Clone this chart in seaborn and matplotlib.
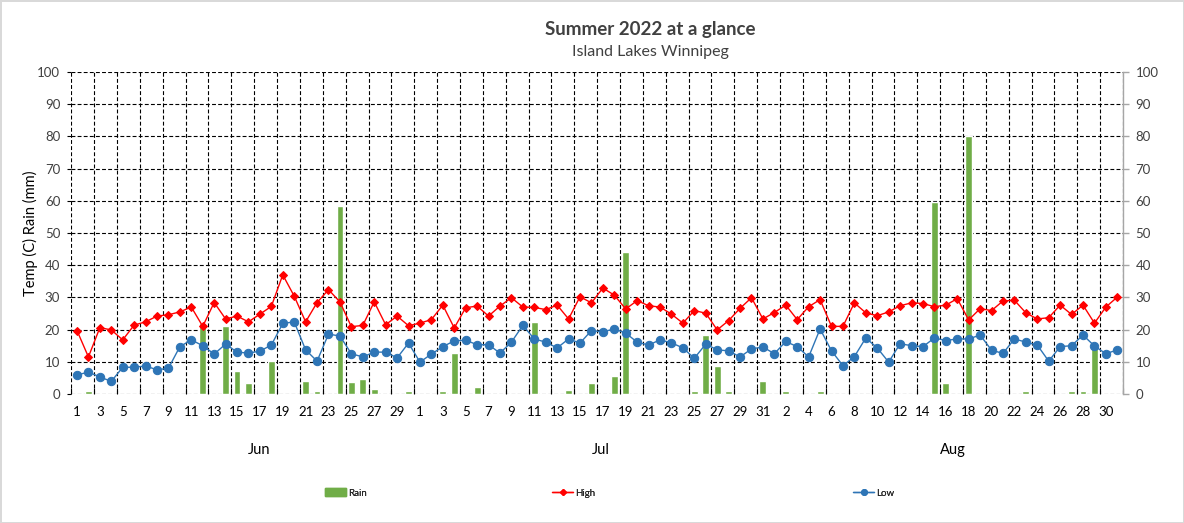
import numpy as np
import pandas as pd
import matplotlib
matplotlib.use("Agg")
import matplotlib.pyplot as plt
from matplotlib.lines import Line2D
from matplotlib.patches import Patch
import seaborn as sns


# data (Jun 1 - Aug 31, 2022)
months = ["Jun", "Jul", "Aug"]
month_days = [30, 31, 31]

high_jun = [19.7, 11.5, 20.6, 19.9, 16.8, 21.4, 22.4, 24.2, 24.6, 25.5,
            27.0, 21.0, 28.4, 23.3, 24.2, 22.4, 24.8, 27.2, 37.0, 30.4,
            22.4, 28.4, 32.4, 28.6, 20.9, 21.3, 28.6, 21.5, 24.2, 21.2]
high_jul = [22.0, 23.1, 27.6, 20.5, 26.8, 27.3, 24.2, 27.3, 29.9, 27.0,
            26.9, 26.2, 27.6, 23.3, 30.2, 28.3, 32.9, 30.7, 26.4, 29.0,
            27.4, 27.0, 24.8, 22.0, 25.9, 25.1, 19.9, 22.8, 26.6, 29.9, 23.3]
high_aug = [25.3, 27.6, 23.1, 27.1, 29.3, 21.0, 21.0, 28.3, 25.2, 24.3,
            25.5, 27.4, 28.3, 28.1, 27.1, 27.6, 29.6, 23.0, 26.5, 25.9,
            28.9, 29.1, 25.2, 23.3, 23.7, 27.6, 24.7, 27.6, 22.0, 27.0, 30.1]

low_jun = [5.9, 6.8, 5.3, 3.9, 8.3, 8.3, 8.7, 7.5, 8.0, 14.7,
           16.8, 15.0, 12.4, 15.5, 13.0, 12.7, 13.3, 15.2, 21.9, 22.4,
           13.7, 10.2, 18.6, 18.0, 12.5, 11.5, 13.0, 13.0, 11.2, 15.8]
low_jul = [9.9, 12.4, 14.7, 16.5, 16.7, 15.3, 15.3, 12.7, 16.1, 21.3,
           17.1, 16.1, 14.3, 17.1, 15.8, 19.7, 19.3, 20.2, 18.9, 16.1,
           15.2, 16.8, 15.9, 14.3, 11.1, 15.5, 13.7, 13.4, 11.5, 14.0, 14.6]
low_aug = [12.5, 16.3, 14.7, 11.5, 20.2, 13.4, 8.8, 11.6, 17.4, 14.3,
           9.9, 15.6, 15.0, 14.7, 17.4, 16.6, 17.1, 17.1, 18.3, 13.6,
           12.6, 17.1, 16.1, 15.2, 10.2, 14.7, 15.0, 18.3, 14.9, 12.5, 13.7]

rain_jun = [0, 1.0, 0, 0, 0, 0, 0, 0, 0, 0,
            0, 22.0, 0, 21.2, 7.2, 3.5, 0, 10.3, 0, 0,
            4.1, 1.0, 0, 58.3, 3.8, 4.7, 1.5, 0, 0, 1.0]
rain_jul = [0, 0, 0.8, 12.7, 0, 2.2, 0, 0, 0, 0,
            22.3, 0, 0, 1.2, 0, 3.4, 0, 5.5, 44.0, 0,
            0, 0, 0, 0, 0.9, 18.2, 8.6, 0.9, 0, 0, 4.0]
rain_aug = [0, 0.9, 0, 0, 0.9, 0, 0, 0, 0, 0,
            0, 0, 0, 0, 59.5, 3.4, 0, 80.0, 0, 0,
            0, 0, 1.0, 0, 0, 0, 0.8, 0.9, 15.3, 0, 0]

# month label positions (in day index units)
month_label_pos = [15.9, 45.8, 76.6]

GREEN = "#70AD47"
RED = "#FF0000"
BLUE = "#2E75B6"
TXT = "#404040"

sns.set_style("white")
plt.rcParams["font.family"] = ["Lato", "DejaVu Sans"]

day_num = [d for n in month_days for d in range(1, n + 1)]
df = pd.DataFrame({
    "idx": np.arange(len(day_num)),
    "day": day_num,
    "high": high_jun + high_jul + high_aug,
    "low": low_jun + low_jul + low_aug,
    "rain": rain_jun + rain_jul + rain_aug,
})

fig = plt.figure(figsize=(11.84, 5.23), dpi=100)
fig.patch.set_edgecolor("#D9D9D9")
fig.patch.set_linewidth(2)
ax = fig.add_axes([0.0602, 0.2467, 0.8883, 0.6156])

sns.barplot(data=df, x="idx", y="rain", native_scale=True, color=GREEN,
            saturation=1, width=0.6, errorbar=None, ax=ax, zorder=2)
sns.lineplot(data=df, x="idx", y="high", color=RED, lw=1, marker="D",
             markersize=4.5, markeredgecolor=RED, ax=ax, zorder=4)
sns.lineplot(data=df, x="idx", y="low", color=BLUE, lw=1, marker="o",
             markersize=6, markeredgecolor=BLUE, ax=ax, zorder=3)

n = len(day_num)
ax.set_xlim(-0.5, n - 0.5)
ax.set_ylim(0, 100)
ax.set_xticks(np.arange(0, n, 2))
ax.set_xticklabels([str(day_num[i]) for i in range(0, n, 2)])
ax.set_xticks(np.arange(-0.5, n, 2), minor=True)
ax.set_yticks(np.arange(0, 101, 10))
ax.set_xlabel("")
ax.set_ylabel("")
ax.set_axisbelow(True)
dash = (0, (3.5, 2))
ax.grid(which="minor", axis="x", color="black", lw=0.8, linestyle=dash)
ax.grid(which="major", axis="y", color="black", lw=0.8, linestyle=dash)
ax.grid(which="major", axis="x", visible=False)
for s in ["top", "left", "bottom", "right"]:
    ax.spines[s].set_visible(False)
ax.tick_params(axis="x", which="major", length=0, pad=9, labelsize=9.5,
               labelcolor="black")
ax.tick_params(axis="x", which="minor", direction="in", length=4,
               width=0.8, color="black", bottom=True)
ax.tick_params(axis="y", length=3, width=0.8, color="black", pad=5,
               labelsize=9.5, labelcolor=TXT, left=True)

twin = ax.twinx()
twin.set_ylim(0, 100)
twin.set_yticks(np.arange(0, 101, 10))
for s in ["top", "left", "bottom"]:
    twin.spines[s].set_visible(False)
twin.spines["right"].set_color("#A6A6A6")
twin.spines["right"].set_linewidth(1)
twin.tick_params(axis="y", length=4, width=1, color="#A6A6A6", pad=5,
                 labelsize=9.5, labelcolor=TXT, right=True)

for name, pos in zip(months, month_label_pos):
    ax.text(pos, -0.174, name, transform=ax.get_xaxis_transform(),
            ha="center", va="center", fontsize=10.5, color="black")

fig.text(30 / 1184, 0.5546, "Temp (C) Rain (mm)", rotation=90,
         ha="center", va="center", fontsize=10.5, color="black")
fig.text(650 / 1184, 1 - 29 / 523, "Summer 2022 at a glance",
         ha="center", va="center", fontsize=13.5, fontweight="bold",
         color=TXT)
fig.text(650 / 1184, 1 - 52 / 523, "Island Lakes Winnipeg",
         ha="center", va="center", fontsize=11.5, color=TXT)

handles = [
    Patch(facecolor=GREEN, edgecolor=GREEN, label="Rain"),
    Line2D([], [], color=RED, lw=1, marker="D", markersize=3, label="High"),
    Line2D([], [], color=BLUE, lw=1, marker="o", markersize=4, label="Low"),
]
legend_x = [325 / 1184, 552 / 1184, 853 / 1184]
for h, lx in zip(handles, legend_x):
    leg = fig.legend(handles=[h], loc="center left",
                     bbox_to_anchor=(lx, 1 - 493 / 523), frameon=False,
                     fontsize=7, handlelength=2.2, handleheight=0.8,
                     handletextpad=0.2, borderpad=0, borderaxespad=0)
    fig.add_artist(leg)

plt.savefig("out.png", dpi=100, edgecolor=fig.get_edgecolor())
